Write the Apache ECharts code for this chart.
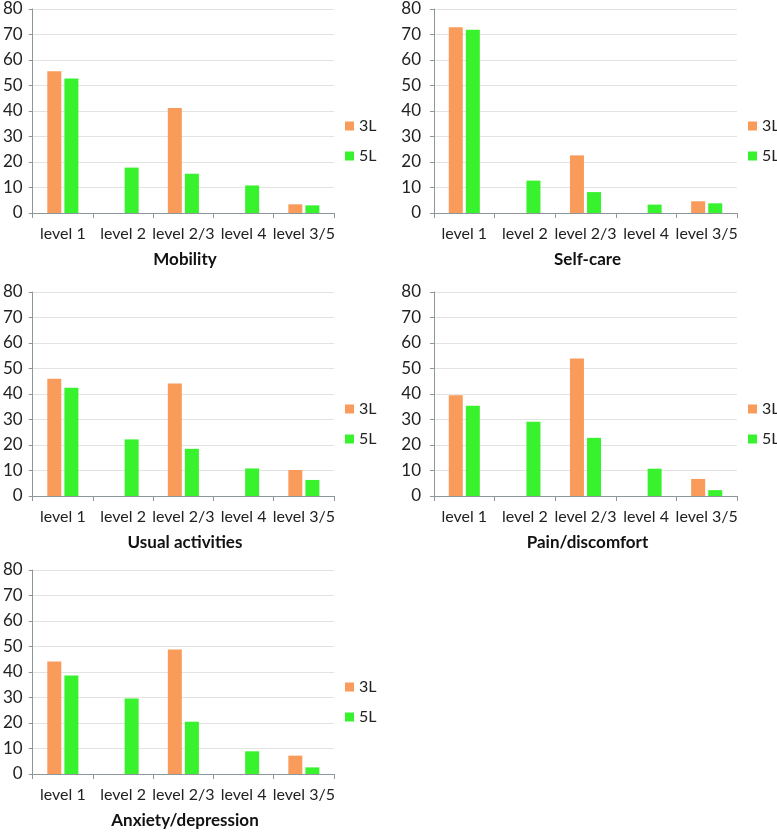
<!DOCTYPE html>
<html>
<head>
<meta charset="utf-8">
<script src="https://cdn.jsdelivr.net/npm/echarts@6/dist/echarts.min.js"></script>
<style>
html,body{margin:0;padding:0;background:#fff;}
#chart{width:777px;height:832px;}
</style>
</head>
<body>
<div id="chart"></div>
<script>
// ---- data ----
var categories = ['level 1', 'level 2', 'level 2/3', 'level 4', 'level 3/5'];
var yTicks = [0, 10, 20, 30, 40, 50, 60, 70, 80];
var seriesNames = ['3L', '5L'];
var panelTitles = ['Mobility', 'Self-care', 'Usual activities', 'Pain/discomfort', 'Anxiety/depression'];

var mobility3L = [55.6, null, 41.2, null, 3.4];
var mobility5L = [52.7, 17.8, 15.4, 10.8, 3.0];
var selfcare3L = [72.8, null, 22.6, null, 4.6];
var selfcare5L = [71.9, 12.7, 8.2, 3.3, 3.8];
var usual3L = [46.0, null, 44.1, null, 10.2];
var usual5L = [42.5, 22.2, 18.5, 10.8, 6.3];
var pain3L = [39.5, null, 53.9, null, 6.7];
var pain5L = [35.4, 29.1, 22.8, 10.7, 2.3];
var anxiety3L = [44.1, null, 48.8, null, 7.2];
var anxiety5L = [38.6, 29.6, 20.5, 8.9, 2.6];

var panelData = [
  [mobility3L, mobility5L],
  [selfcare3L, selfcare5L],
  [usual3L, usual5L],
  [pain3L, pain5L],
  [anxiety3L, anxiety5L]
];

// ---- layout / style ----
var FONT = 'Lato';
var colors = ['#F89B5B', '#38F22E'];
var axisColor = '#8C979C';
var gridColor = '#E3E3E3';
var layout = [
  {left: 32, top: 9, width: 302, height: 204, legendLeft: 345, labelMargin: 10},
  {left: 434, top: 9, width: 303, height: 204, legendLeft: 748, labelMargin: 13},
  {left: 32, top: 292, width: 302, height: 204, legendLeft: 345, labelMargin: 10},
  {left: 434, top: 292, width: 303, height: 204, legendLeft: 748, labelMargin: 13},
  {left: 32, top: 570, width: 302, height: 204, legendLeft: 345, labelMargin: 10}
];

var grids = [], xAxes = [], yAxes = [], series = [], titles = [], legends = [];
layout.forEach(function (L, i) {
  grids.push({left: L.left, top: L.top, width: L.width, height: L.height, containLabel: false});
  xAxes.push({
    type: 'category', gridIndex: i, data: categories,
    axisLine: {show: true, lineStyle: {color: axisColor, width: 1}},
    axisTick: {show: true, length: 5, lineStyle: {color: axisColor}},
    axisLabel: {color: '#222', fontFamily: FONT, fontSize: 16, margin: 13, interval: 0}
  });
  yAxes.push({
    type: 'value', gridIndex: i, min: yTicks[0], max: yTicks[yTicks.length - 1], interval: 10,
    axisLine: {show: true, lineStyle: {color: axisColor, width: 1}},
    axisTick: {show: true, length: 4, lineStyle: {color: axisColor}},
    splitLine: {show: true, lineStyle: {color: gridColor, width: 1}},
    axisLabel: {color: '#222', fontFamily: FONT, fontSize: 17, margin: L.labelMargin}
  });
  seriesNames.forEach(function (name, s) {
    series.push({
      name: name, type: 'bar', xAxisIndex: i, yAxisIndex: i,
      data: panelData[i][s], barWidth: 14, barGap: '22%',
      itemStyle: {color: colors[s]}, animation: false
    });
  });
  titles.push({
    text: panelTitles[i], left: L.left + L.width / 2 + 2, top: L.top + L.height + 38,
    textAlign: 'center', padding: 0,
    textStyle: {fontFamily: FONT, fontSize: 17, fontWeight: 'bold', color: '#111'}
  });
  legends.push({
    data: seriesNames, orient: 'vertical', left: L.legendLeft, top: L.top + 109,
    itemWidth: 9, itemHeight: 9, itemGap: 14, icon: 'rect', padding: 0,
    textStyle: {fontFamily: FONT, fontSize: 16, color: '#222', lineHeight: 16}
  });
});

var chart = echarts.init(document.getElementById('chart'), null, {renderer: 'canvas'});
chart.setOption({
  animation: false,
  color: colors,
  title: titles,
  legend: legends,
  grid: grids,
  xAxis: xAxes,
  yAxis: yAxes,
  series: series
});
</script>
</body>
</html>
